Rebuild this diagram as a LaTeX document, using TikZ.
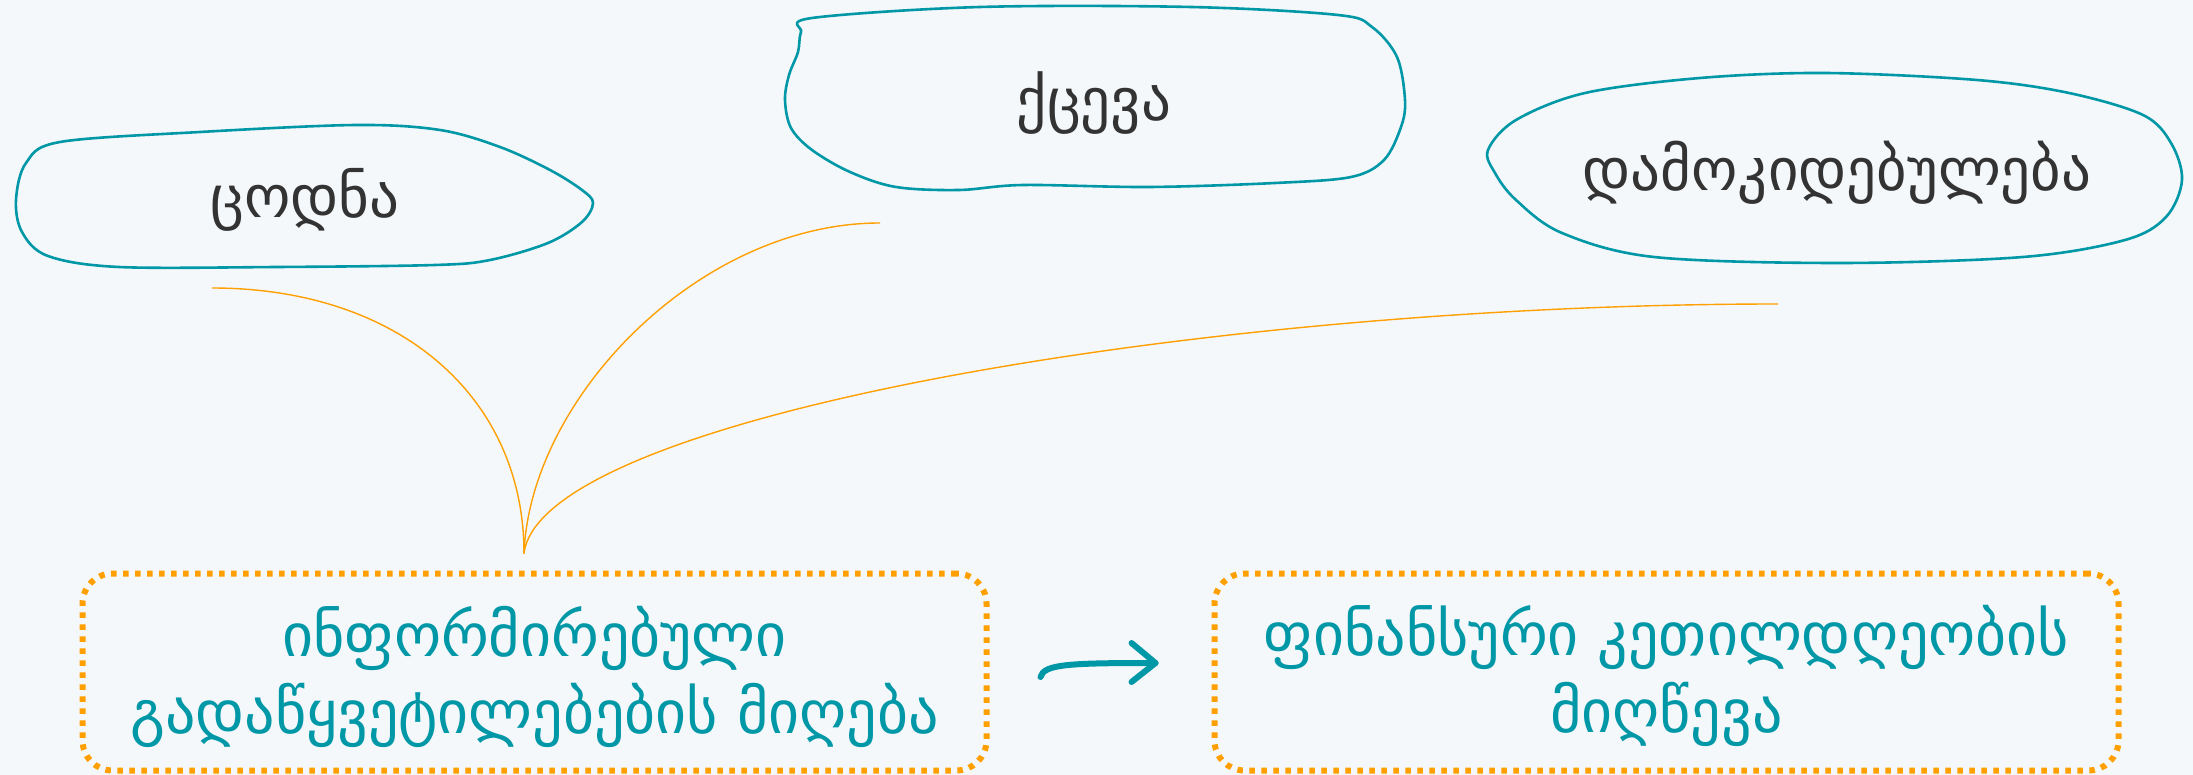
\documentclass[tikz,border=0pt]{standalone}
\usepackage{fontspec}
\newfontfamily\geo{DejaVu Sans}
\usetikzlibrary{calc}
\definecolor{bgc}{HTML}{F4F8FB}
\definecolor{tealc}{HTML}{0097A7}
\definecolor{orng}{HTML}{FFA000}
\definecolor{ink}{HTML}{333333}
\begin{document}
\begin{tikzpicture}[x=1pt,y=-1pt,
  blobline/.style={draw=tealc, line width=2.6pt},
  lbl/.style={font=\geo\fontsize{59}{66}\selectfont, text=ink, inner sep=0pt},
  goal/.style={draw=orng, line width=6pt, dash pattern=on 5.5pt off 6.5pt, rounded corners=30pt,
    minimum width=904pt, minimum height=197pt},
  goaltext/.style={align=center, text=tealc, inner sep=0pt,
    font=\geo\fontsize{60}{77}\selectfont},
  link/.style={draw=orng, line width=1.4pt},
  flow/.style={draw=tealc, line width=6pt, line cap=round, line join=round}]
\fill[bgc] (0,0) rectangle (2193,775);
\useasboundingbox (0,0) rectangle (2193,775);

% labels
\node[lbl] (know) at (305,200) {ცოდნა};
\node[lbl] (behav) at (1094,103) {ქცევა};
\node[lbl] (dep) at (1837,173) {დამოკიდებულება};

% blobs
\draw[blobline] plot[smooth cycle, tension=0.55] coordinates {
 (60,142) (200,132) (356,125) (440,130) (500,147) (550,170) (582,190) (593,203) (582,222)
 (548,243) (490,260) (435,265) (277,267) (119,267) (48,256) (22,232) (16,200) (26,163)};
\draw[blobline] plot[smooth cycle, tension=0.55] coordinates {
 (812,18) (980,7) (1191,7) (1338,15) (1372,27) (1397,57) (1405,100) (1401,127) (1384,160)
 (1351,177) (1275,183) (1149,187) (1023,185) (959,190) (896,187) (850,172) (812,150)
 (791,128) (785,100) (789,75) (798,52) (801,32)};
\draw[blobline] plot[smooth cycle, tension=0.55] coordinates {
 (1516,120) (1585,93) (1700,78) (1825,73) (1977,80) (2069,93) (2143,115) (2171,143)
 (2182,180) (2166,217) (2125,240) (2023,257) (1839,263) (1654,257) (1562,233) (1516,200)
 (1495,173) (1488,150)};

% goal boxes
\node[goal] (dec) at (534.5,672) {};
\node[goal] (fin) at (1666.5,672) {};
\node[goaltext] (dectext) at ($(dec.center)+(0,5)$) {ინფორმირებული\\გადაწყვეტილებების მიღება};
\node[goaltext] (fintext) at ($(fin.center)+(0,4)$) {ფინანსური კეთილდღეობის\\მიღწევა};

% connectors
\coordinate (hub) at ($(dec.north)+(-10.5,-17)$);
\coordinate (kend) at (212,288);
\coordinate (bend) at (880,223);
\coordinate (dend) at (1778,304);
\draw[link] (hub) .. controls ($(hub)+(0,-156)$) and (400,288) .. (kend);
\draw[link] (hub) .. controls ($(hub)+(6,-156)$) and (700,223) .. (bend);
\draw[link] (hub) .. controls ($(hub)+(16,-136)$) and (1200,304) .. (dend);

% arrow
\coordinate (as) at ($(dec.east)+(51,5)$);
\coordinate (ae) at ($(fin.west)+(-56,-9)$);
\draw[flow] (as) .. controls ($(as)+(3,-13)$) and ($(as)+(30,-14)$) .. (ae);
\draw[flow] ($(ae)+(-24,-20)$) -- (ae) -- ($(ae)+(-24,19)$);
\end{tikzpicture}
\end{document}
